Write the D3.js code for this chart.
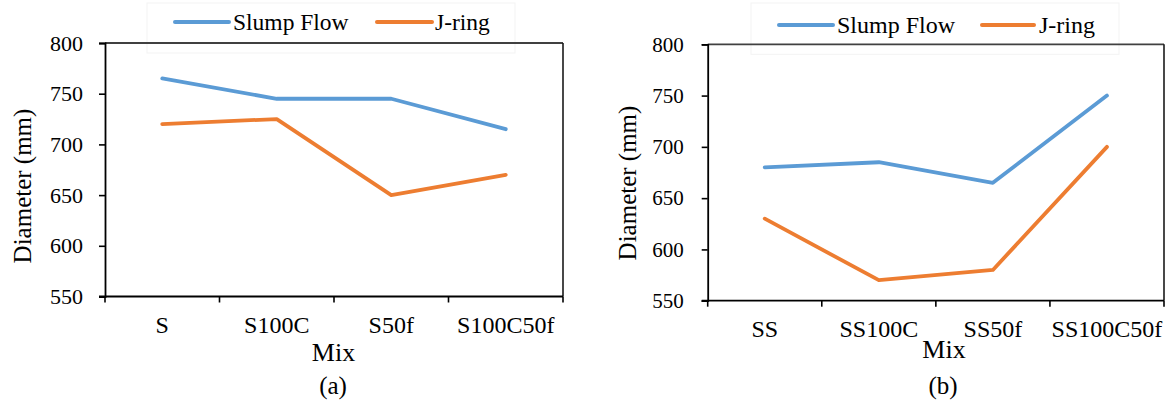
<!DOCTYPE html>
<html>
<head>
<meta charset="utf-8">
<script src="https://cdn.jsdelivr.net/npm/d3@7"></script>
<style>
  html, body { margin: 0; padding: 0; background: #fff; }
  svg { display: block; }
  text { font-family: "Liberation Serif", "Times New Roman", serif; fill: #000; }
</style>
</head>
<body>
<svg id="chart" width="1171" height="406"></svg>
<script>
// ---- data ----
const seriesNames = ["Slump Flow", "J-ring"];
const seriesColors = ["#5B9BD5", "#ED7D31"];
const yTicks = [550, 600, 650, 700, 750, 800];

const catsA = ["S", "S100C", "S50f", "S100C50f"];
const slumpA = [765, 745, 745, 715];
const jringA = [720, 725, 650, 670];

const catsB = ["SS", "SS100C", "SS50f", "SS100C50f"];
const slumpB = [680, 685, 665, 750];
const jringB = [630, 570, 580, 700];

const panelLabels = ["(a)", "(b)"];

// ---- layout (positions only) ----
const panels = [
  { cats: catsA, series: [slumpA, jringA], label: panelLabels[0],
    left: 105, right: 563, top: 43, bottom: 296.5, tickFont: 22,
    tickLabelGap: 22, titleX: 31, titleY: 186, xLabY: 333,
    mixX: 333.5, mixY: 361, capX: 333, capY: 394,
    leg: { y: 22, base: 30, items: [[175, 229, 233], [377, 432, 435]], font: 23.5 } },
  { cats: catsB, series: [slumpB, jringB], label: panelLabels[1],
    left: 707.7, right: 1164, top: 44.3, bottom: 300.7, tickFont: 21,
    tickLabelGap: 24, titleX: 636, titleY: 183, xLabY: 337,
    mixX: 944, mixY: 358, capX: 943, capY: 394,
    leg: { y: 25, base: 33, items: [[779, 833, 837], [982, 1034, 1039]], font: 24 } }
];

const svg = d3.select("#chart");

panels.forEach(p => {
  const g = svg.append("g");
  const x = d3.scaleBand().domain(p.cats).range([p.left, p.right]).padding(0);
  const y = d3.scaleLinear().domain([550, 800]).range([p.bottom, p.top]);
  const bw = x.bandwidth();

  // faint legend frame
  g.append("rect")
    .attr("x", p.leg.items[0][0] - 28).attr("y", 3)
    .attr("width", p.leg.items[1][2] + 80 - (p.leg.items[0][0] - 28))
    .attr("height", p.top + 7)
    .attr("fill", "none").attr("stroke", "#f3f3f3").attr("stroke-width", 1);

  // top and right frame
  g.append("line").attr("x1", p.left).attr("x2", p.right)
    .attr("y1", y(800)).attr("y2", y(800))
    .attr("stroke", "#404040").attr("stroke-width", 1.8);
  g.append("line").attr("x1", p.right).attr("x2", p.right)
    .attr("y1", y(800)).attr("y2", y(550))
    .attr("stroke", "#1a1a1a").attr("stroke-width", 1.6);

  // y axis
  const yAxis = d3.axisLeft(y).tickValues(yTicks).tickSize(6).tickPadding(p.tickLabelGap - 6);
  const ya = g.append("g").attr("transform", `translate(${p.left},0)`).call(yAxis);
  ya.select(".domain").attr("stroke", "#000").attr("stroke-width", 1.8);
  ya.selectAll(".tick line").attr("stroke", "#000").attr("stroke-width", 1.6);
  ya.selectAll(".tick text")
    .style("font-family", '"Liberation Serif", "Times New Roman", serif')
    .style("font-size", p.tickFont + "px").attr("fill", "#000");

  // x axis: line + boundary ticks + centered labels
  g.append("line").attr("x1", p.left - 6).attr("x2", p.right)
    .attr("y1", y(550)).attr("y2", y(550))
    .attr("stroke", "#000").attr("stroke-width", 1.8);
  const bounds = p.cats.map(c => x(c)).concat([x(p.cats[p.cats.length - 1]) + bw]);
  g.selectAll(".xt").data(bounds).enter().append("line")
    .attr("x1", d => d).attr("x2", d => d)
    .attr("y1", y(550)).attr("y2", y(550) + 6)
    .attr("stroke", "#000").attr("stroke-width", 1.6);
  g.selectAll(".xl").data(p.cats).enter().append("text")
    .attr("x", d => x(d) + bw / 2).attr("y", p.xLabY)
    .attr("text-anchor", "middle").style("font-size", "24px").text(d => d);

  // lines
  const line = d3.line().x((d, i) => x(p.cats[i]) + bw / 2).y(d => y(d));
  p.series.forEach((s, k) => {
    g.append("path").datum(s).attr("d", line)
      .attr("fill", "none").attr("stroke", seriesColors[k])
      .attr("stroke-width", 3.8).attr("stroke-linejoin", "round").attr("stroke-linecap", "round");
  });

  // legend
  p.leg.items.forEach((it, k) => {
    g.append("line").attr("x1", it[0]).attr("x2", it[1])
      .attr("y1", p.leg.y).attr("y2", p.leg.y)
      .attr("stroke", seriesColors[k]).attr("stroke-width", 4).attr("stroke-linecap", "round");
    g.append("text").attr("x", it[2]).attr("y", p.leg.base)
      .style("font-size", p.leg.font + "px").text(seriesNames[k]);
  });

  // axis titles
  g.append("text").attr("transform", `translate(${p.titleX},${p.titleY}) rotate(-90)`)
    .attr("text-anchor", "middle").style("font-size", "25px").text("Diameter (mm)");
  g.append("text").attr("x", p.mixX).attr("y", p.mixY)
    .attr("text-anchor", "middle").style("font-size", "26px").text("Mix");
  g.append("text").attr("x", p.capX).attr("y", p.capY)
    .attr("text-anchor", "middle").style("font-size", "25px").text(p.label);
});
</script>
</body>
</html>
